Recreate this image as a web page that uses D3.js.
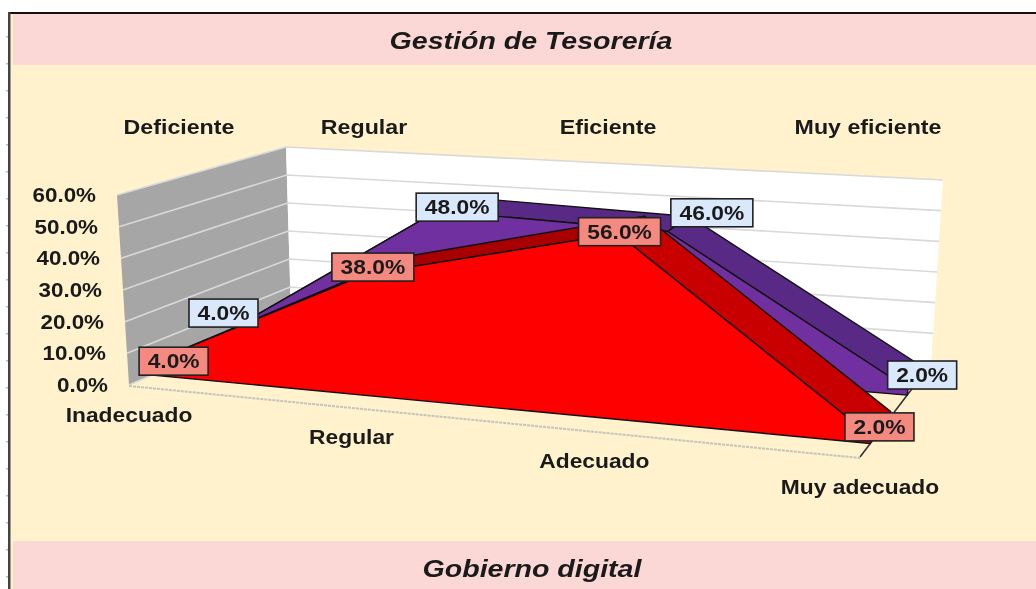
<!DOCTYPE html>
<html><head><meta charset="utf-8">
<script src="https://cdn.jsdelivr.net/npm/d3@7"></script>
<style>html,body{margin:0;padding:0;background:#fff}svg{display:block;filter:blur(0.4px)}text{font-family:"Liberation Sans",Arial,sans-serif;fill:#1a1a1a;font-weight:bold}</style>
</head><body><svg id="c" width="1036" height="589"></svg>
<script>
const categories = ["Inadecuado","Regular","Adecuado","Muy adecuado"];
const seriesNames = ["Serie 1","Serie 2"];
const frontValues = [4,38,56,2];
const backValues = [4,48,46,2];
const headerLabels = ["Deficiente","Regular","Eficiente","Muy eficiente"];
const yTicks = [0,10,20,30,40,50,60];
const titles = ["Gestión de Tesorería","Gobierno digital"];

const W=1036,H=589;
const floorQuad=[[129,385],[860,457],[931,364],[291,315]];
const topQuad=[[117,195],[908,252],[943,180],[286,147]];
const headerX=[179,364,608,868];
const frontNudge=[[0,8],[-13,2],[-12,7],[-2,3]];
const backNudge=[[-31,-6],[4,3],[33,-11],[6,-3]];
const warp=0.045;

function homography(q){
  const [[x0,y0],[x1,y1],[x2,y2],[x3,y3]]=q;
  const dx1=x1-x2,dx2=x3-x2,sx=x0-x1+x2-x3,dy1=y1-y2,dy2=y3-y2,sy=y0-y1+y2-y3;
  const d=dx1*dy2-dx2*dy1;
  const g=(sx*dy2-dx2*sy)/d,h=(dx1*sy-sx*dy1)/d;
  const a=x1-x0+g*x1,b=x3-x0+h*x3,c=x0,e=y1-y0+g*y1,f=y3-y0+h*y3,i=y0;
  return (u,v)=>{const w=g*u+h*v+1;return [(a*u+b*v+c)/w,(e*u+f*v+i)/w];};
}
const floorH=homography(floorQuad),topH=homography(topQuad);
const uScale=d3.scalePoint().domain(categories).range([0,1]);
const vScale=d3.scaleBand().domain(seriesNames).range([0,1]).paddingInner(0.5).paddingOuter(0.25);
const yScale=d3.scaleLinear().domain([0,60]).range([0,1]);
function P(u0,v,val){const u=u0+warp*u0*(1-u0),a=floorH(u,v),b=topH(u,v),t=yScale(val);return [a[0]+(b[0]-a[0])*t,a[1]+(b[1]-a[1])*t];}

const svg=d3.select("#c");
const line=d3.line();
const poly=(pts,fill,stroke,sw)=>svg.append("path").attr("d",line(pts)+"Z").attr("fill",fill).attr("stroke",stroke||"none").attr("stroke-width",sw||0).attr("stroke-linejoin","round");
const txt=(s,x,y,anchor,size,sx,italic)=>svg.append("text").attr("transform",`translate(${x},${y}) scale(${sx},1)`).attr("text-anchor",anchor).attr("font-size",size).attr("font-style",italic?"italic":"normal").text(s);

// page
svg.append("rect").attr("x",9).attr("y",13).attr("width",W-9).attr("height",H-13).attr("fill","#fff2cc");
svg.append("rect").attr("x",13).attr("y",14).attr("width",W-13).attr("height",51).attr("fill","#fbd7d5");
svg.append("rect").attr("x",13).attr("y",541).attr("width",W-13).attr("height",48).attr("fill","#fbd7d5");
svg.append("rect").attr("x",8).attr("y",12).attr("width",W-8).attr("height",2).attr("fill","#111");
svg.append("rect").attr("x",8).attr("y",12).attr("width",2.5).attr("height",H-12).attr("fill","#444");
svg.selectAll("rect.nib").data(d3.range(22)).join("rect").attr("class","nib").attr("x",6).attr("width",2).attr("height",1.5).attr("y",d=>36+d*27).attr("fill","#bbb");

// walls
poly([P(0,0,0),P(0,1,0),P(0,1,60),P(0,0,60)],"#a6a6a6");
poly([P(0,1,0),P(1,1,0),P(1,1,60),P(0,1,60)],"#ffffff");
yTicks.forEach(t=>{
  const l=[P(0,0,t),P(0,1,t),P(1,1,t)];
  svg.append("path").attr("d",line(l)).attr("fill","none").attr("stroke","#d9d9d9").attr("stroke-width",1.6);
});
// floor edges
svg.append("path").attr("d",line([P(0,0,0),P(1,0,0)])).attr("transform","translate(0,1)").attr("fill","none").attr("stroke","#c4c4bc").attr("stroke-width",2).attr("stroke-dasharray","3 1");
svg.append("path").attr("d",line([P(1,0,0),P(1,0.7,0)])).attr("fill","none").attr("stroke","#333").attr("stroke-width",1.6);

// series
function area(name,vals,front,bands){
  const v0=vScale(name),v1=v0+vScale.bandwidth();
  d3.pairs(categories.map((c,i)=>[uScale(c),vals[i]])).forEach(([a,b],i)=>{
    poly([P(a[0],v0,a[1]),P(b[0],v0,b[1]),P(b[0],v1,b[1]),P(a[0],v1,a[1])],bands[i],"#111",1.4);
  });
  const last=categories.length-1;
  const pts=categories.map((c,i)=>P(uScale(c),v0,vals[i]));
  pts.push(P(uScale(categories[last]),v0,0),P(uScale(categories[0]),v0,0));
  poly(pts,front,"#111",1.4);
}
area(seriesNames[1],backValues,"#7030a0",["#582a85","#582a85","#582a85"]);
area(seriesNames[0],frontValues,"#ff0000",["#a80000","#a80000","#c80000"]);

// axis text
yTicks.forEach(t=>{const p=P(0,0,t);txt(t.toFixed(1)+"%",p[0]-21,p[1]+7,"end",20,1.12);});
categories.forEach(c=>{const p=P(uScale(c),0,0);txt(c,p[0],p[1]+37,"middle",20,1.14);});
headerLabels.forEach((t,i)=>txt(t,headerX[i],134,"middle",20,1.16));

// data labels
function labels(name,vals,fill,nudge){
  const vm=vScale(name)+vScale.bandwidth()/2;
  categories.forEach((c,i)=>{
    const q=P(uScale(c),vm,vals[i]),p=[q[0]+nudge[i][0],q[1]+nudge[i][1]],s=vals[i].toFixed(1)+"%",w=s.length===5?82:69;
    svg.append("rect").attr("x",p[0]-w/2).attr("y",p[1]-14).attr("width",w).attr("height",28).attr("fill",fill).attr("stroke","#222").attr("stroke-width",1.6);
    txt(s,p[0],p[1]+7,"middle",20,1.14);
  });
}
labels(seriesNames[1],backValues,"#dae8fc",backNudge);
labels(seriesNames[0],frontValues,"#f4897f",frontNudge);

txt(titles[0],531,49,"middle",24,1.19,true);
txt(titles[1],532,577,"middle",24,1.19,true);
</script></body></html>
